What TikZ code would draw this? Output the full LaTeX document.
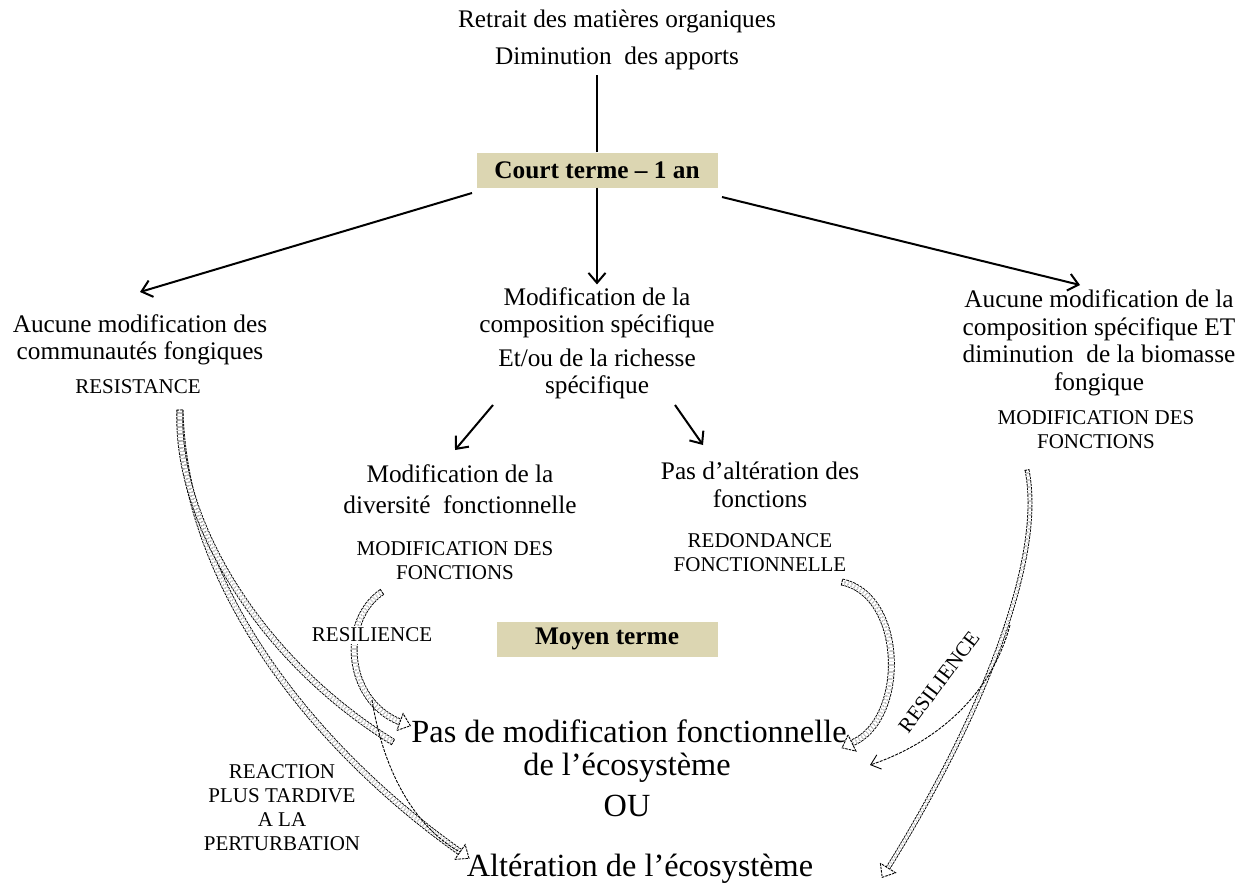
\documentclass[tikz,border=0pt]{standalone}
\usepackage{fontspec}
\setmainfont{Liberation Serif}
\usetikzlibrary{arrows.meta,calc}
\definecolor{tanbox}{RGB}{220,214,178}
\tikzset{
 txt/.style={font=\fontsize{25.3}{27.5}\selectfont, align=center, inner sep=0pt},
 caps/.style={font=\fontsize{21}{24}\selectfont, align=center, inner sep=0pt},
 bigtxt/.style={font=\fontsize{32.3}{36}\selectfont, inner sep=0pt},
 termbox/.style={fill=tanbox, font=\bfseries\fontsize{25.3}{28}\selectfont, minimum height=35pt, inner sep=0pt},
 arr/.style={line width=2pt, -{Straight Barb[length=10pt,width=17pt]}},
 thinarr/.style={draw=black, dash pattern=on 3pt off 1.2pt, line width=0.9pt, -{Straight Barb[length=9pt,width=15pt]}},
 thinline/.style={draw=black, dash pattern=on 3pt off 1.2pt, line width=0.9pt},
 bandline/.style={draw=black, dash pattern=on 2.5pt off 1pt, line width=0.9pt},
 band/.style={bandline, double=white, double distance=#1},
 band/.default=5pt,
 bhead/.pic={\draw[bandline, fill=white] (0pt,-9pt) -- (11pt,0pt) -- (0pt,9pt) -- cycle;},
 bcap/.pic={\draw[bandline] (0pt,-3.4pt) -- (0pt,3.4pt);},
 bcapthin/.pic={\draw[bandline] (0pt,-2.4pt) -- (0pt,2.4pt);}
}
\begin{document}
\begin{tikzpicture}[x=1pt, y=-1pt]
\useasboundingbox (0,0) rectangle (1247,888);

% text nodes
\node[txt] (t1) at (617,21) {Retrait des matières organiques};
\node[txt] (t2) at (617,58) {Diminution \ des apports};
\node[termbox, minimum width=241pt] (court) at (597,170) {Court terme – 1 an};
\node[txt] (left1) at (140,340) {Aucune modification des\\communautés fongiques};
\node[caps] (resist) at (138,387) {RESISTANCE};
\node[txt] (mid1) at (597,313) {Modification de la\\composition spécifique};
\node[txt] (mid2) at (597,374) {Et/ou de la richesse\\spécifique};
\node[txt] (right1) at (1099,343) {Aucune modification de la\\composition spécifique ET\\diminution \ de la biomasse\\fongique};
\node[caps] (right2) at (1096,430) {MODIFICATION DES\\FONCTIONS};
\node[txt] (div1) at (460,489) {Modification de la\\[3pt]diversité \ fonctionnelle};
\node[caps] (div2) at (455,561) {MODIFICATION DES\\FONCTIONS};
\node[txt] (pas1) at (760,485) {Pas d’altération des\\fonctions};
\node[caps] (pas2) at (760,553) {REDONDANCE\\FONCTIONNELLE};
\node[termbox, minimum width=221pt] (moyen) at (607,639) {Moyen terme};
\node[bigtxt] (pasmod) at (629,731) {Pas de modification fonctionnelle};
\node[bigtxt] (ecos) at (627,768) {de l’écosystème};
\node[bigtxt] (ou) at (627,806) {OU};
\node[bigtxt] (alt) at (640,869) {Altération de l’écosystème};
\node[caps] (reac) at (282,808) {REACTION\\PLUS TARDIVE\\A LA\\PERTURBATION};

% connector coordinates
\coordinate (cL) at (472,193);
\coordinate (cR) at (722,197);
\coordinate (eL) at (140,292);
\coordinate (eR) at (1080,285);
\coordinate (m2L) at (493,405);
\coordinate (m2R) at (675,405);
\coordinate (eDiv) at (455,450);
\coordinate (ePas) at (703,445);

% solid arrows
\draw[line width=2pt] (court.north) -- ($(court.north |- t2.south)+(0,5)$);
\draw[arr] (cL) -- (eL);
\draw[arr] (court.south) -- ($(mid1.north)+(0,-3)$);
\draw[arr] (cR) -- (eR);
\draw[arr] (m2L) -- (eDiv);
\draw[arr] (m2R) -- (ePas);

% block arrows from RESISTANCE
\coordinate (tailRes) at (180,410);
\coordinate (endPas1) at (393,742);
\coordinate (headAlt1) at (460,852);
\draw[band] (tailRes) .. controls (185,600) and (330,760) .. (headAlt1);
\draw[band] (tailRes) .. controls (175,520) and (260,660) .. (endPas1);
\pic[rotate=-88] at (tailRes) {bcap};
\pic[rotate=-30] at (endPas1) {bcap};
\pic[rotate=-35] at (headAlt1) {bhead};

% block arrow from MODIFICATION DES FONCTIONS (centre)
\coordinate (tailDiv) at (382,592);
\coordinate (headPas2) at (400,722);
\draw[band] (tailDiv) .. controls (340,620) and (345,700) .. (headPas2);
\pic[rotate=214] at (tailDiv) {bcap};
\pic[rotate=-20] at (headPas2) {bhead};
\coordinate (thinS) at (372,700);
\draw[thinline] (thinS) .. controls (385,780) and (420,830) .. (headAlt1);

% block arrow from REDONDANCE FONCTIONNELLE
\coordinate (tailRed) at (842,582);
\coordinate (headPas3) at (852,743);
\draw[band] (tailRed) .. controls (905,595) and (907,720) .. (headPas3);
\pic[rotate=-12] at (tailRed) {bcap};
\pic[rotate=-154] at (headPas3) {bhead};

% block arrow from MODIFICATION DES FONCTIONS (right)
\coordinate (tailMod) at (1027,470);
\coordinate (headAlt2) at (888,868);
\draw[band=3pt] (tailMod) .. controls (1045,560) and (980,720) .. (headAlt2);
\pic[rotate=-79] at (tailMod) {bcapthin};
\pic[rotate=-122] at (headAlt2) {bhead};

% thin RESILIENCE arrow
\coordinate (resS) at (1010,625);
\coordinate (resE) at (870,765);
\draw[thinarr] (resS) .. controls (990,700) and (930,745) .. (resE);

\node[caps, fill=white, inner sep=2pt] (resl) at (372,635) {RESILIENCE};
\node[caps, rotate=53] (resl2) at (939,682) {RESILIENCE};
\end{tikzpicture}
\end{document}
